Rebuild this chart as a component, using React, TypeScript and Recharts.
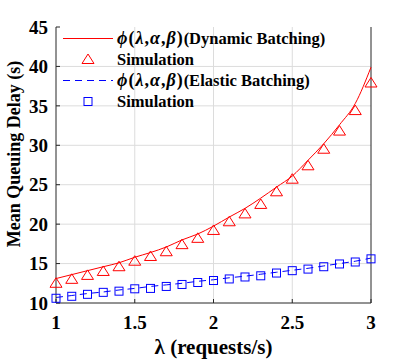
import { LineChart, Line, XAxis, YAxis, ReferenceLine, Legend } from 'recharts';

const lambdas = [1.0, 1.1, 1.2, 1.3, 1.4, 1.5, 1.6, 1.7, 1.8, 1.9, 2.0, 2.1, 2.2, 2.3, 2.4, 2.5, 2.6, 2.7, 2.8, 2.9, 3.0];
const dynamicModel = [13.1, 13.6, 14.1, 14.6, 15.1, 15.8, 16.4, 17.1, 18.0, 18.75, 19.75, 20.9, 22.0, 23.3, 24.7, 26.1, 28.1, 30.2, 32.6, 35.3, 39.9];
const dynamicSim = [12.5, 13.0, 13.5, 14.0, 14.6, 15.3, 15.9, 16.5, 17.4, 18.2, 19.2, 20.3, 21.3, 22.5, 24.1, 25.7, 27.4, 29.5, 31.8, 34.4, 37.9];
const elasticModel = [10.7, 10.95, 11.2, 11.4, 11.65, 11.85, 12.1, 12.3, 12.5, 12.75, 12.95, 13.2, 13.4, 13.65, 13.9, 14.15, 14.4, 14.7, 15.0, 15.3, 15.7];
const elasticSim = [10.6, 10.85, 11.1, 11.35, 11.5, 11.8, 11.85, 12.1, 12.35, 12.6, 12.85, 13.05, 13.3, 13.45, 13.8, 14.1, 14.3, 14.6, 14.95, 15.2, 15.6];

const xTicks = [1, 1.5, 2, 2.5, 3];
const yTicks = [10, 15, 20, 25, 30, 35, 40, 45];
const legendNames = ['(Dynamic Batching)', 'Simulation', '(Elastic Batching)', 'Simulation'];

const data = lambdas.map((x, i) => ({
  x,
  dynModel: dynamicModel[i],
  dynSim: dynamicSim[i],
  elaModel: elasticModel[i],
  elaSim: elasticSim[i],
}));

const FONT = "Liberation Serif, Times New Roman, DejaVu Serif, serif";
const GRID = '#dcdcdc';
const AXIS = '#262626';

const triangle = (p: any) => (
  <path key={'t' + p.index} d={`M${p.cx},${p.cy - 5.5}L${p.cx + 6},${p.cy + 4}L${p.cx - 6},${p.cy + 4}Z`}
    fill="none" stroke="#ff0000" strokeWidth={1} />
);

const square = (p: any) => (
  <rect key={'s' + p.index} x={p.cx - 4} y={p.cy - 4} width={8} height={8} fill="none" stroke="#0000ff" strokeWidth={1} />
);

const Phi = () => (
  <span style={{ fontSize: 18, letterSpacing: 1 }}><i>ϕ</i>(<i>λ</i>,<i>α</i>,<i>β</i>)</span>
);

function LegendBox() {
  const samples = [
    <line x1={7} x2={57} y1={10.5} y2={10.5} stroke="#ff0000" strokeWidth={1} />,
    <path d="M32,5L38,14.5L26,14.5Z" fill="none" stroke="#ff0000" />,
    <line x1={7} x2={57} y1={10.5} y2={10.5} stroke="#0000ff" strokeWidth={1} strokeDasharray="7 5" />,
    <rect x={28} y={6.5} width={8} height={8} fill="none" stroke="#0000ff" />,
  ];
  return (
    <div style={{ fontFamily: FONT, fontWeight: 'bold', fontSize: 16.5, color: '#000' }}>
      {legendNames.map((name, i) => (
        <div key={i} style={{ display: 'flex', alignItems: 'center', height: 21 }}>
          <svg width={61} height={21}>{samples[i]}</svg>
          <span style={{ whiteSpace: 'nowrap' }}>{i % 2 === 0 ? <Phi /> : null}{name}</span>
        </div>
      ))}
    </div>
  );
}

const YLabel = (props: any) => {
  const vb = props.viewBox;
  const cx = 14;
  const cy = vb.y + vb.height / 2 - 11;
  return (
    <text x={cx} y={cy} transform={`rotate(-90, ${cx}, ${cy})`} textAnchor="middle" dominantBaseline="central"
      fontFamily={FONT} fontWeight="bold" fontSize={18} fill="#000">
      Mean Queuing Delay (s)
    </text>
  );
};

const tickStyle = { fontFamily: FONT, fontWeight: 'bold', fontSize: 19, fill: '#000' };

export default function App() {
  return (
    <div style={{ position: 'absolute', left: 0, top: 0, background: '#fff' }}>
      <LineChart width={410} height={359} data={data} margin={{ top: 27, right: 39, bottom: 0, left: 0 }}>
        <XAxis dataKey="x" type="number" domain={[1, 3]} ticks={xTicks} height={56}
          tick={tickStyle} tickSize={-4} tickMargin={17} axisLine={{ stroke: AXIS }} tickLine={{ stroke: AXIS }}
          label={{ value: 'λ (requests/s)', position: 'insideBottom', offset: 5, style: { fontFamily: FONT, fontWeight: 'bold', fontSize: 21, fill: '#000' } }} />
        <XAxis xAxisId="t" dataKey="x" type="number" domain={[1, 3]} ticks={xTicks} orientation="top" height={0}
          tickFormatter={() => ''} tickSize={-4} axisLine={{ stroke: AXIS }} tickLine={{ stroke: AXIS }} />
        <YAxis type="number" domain={[10, 45]} ticks={yTicks} width={56}
          tick={tickStyle} tickSize={-4} tickMargin={12} axisLine={{ stroke: AXIS }} tickLine={{ stroke: AXIS }}
          label={<YLabel />} />
        {xTicks.slice(1, -1).map((t) => (
          <ReferenceLine key={'gx' + t} x={t} stroke={GRID} strokeWidth={1} />
        ))}
        {yTicks.slice(1, -1).map((t) => (
          <ReferenceLine key={'gy' + t} segment={[{ x: xTicks[0], y: t }, { x: xTicks[xTicks.length - 1], y: t }]}
            stroke={GRID} strokeWidth={1} ifOverflow="visible" />
        ))}
        <ReferenceLine x={3} stroke={AXIS} strokeWidth={1} />
        <Line dataKey="dynModel" type="monotone" stroke="#ff0000" strokeWidth={1} dot={false} isAnimationActive={false} />
        <Line dataKey="dynSim" stroke="none" dot={triangle} isAnimationActive={false} />
        <Line dataKey="elaModel" type="monotone" stroke="#0000ff" strokeWidth={1} strokeDasharray="7 5" dot={false} isAnimationActive={false} />
        <Line dataKey="elaSim" stroke="none" dot={square} isAnimationActive={false} />
        <Legend layout="vertical" align="center" verticalAlign="middle" content={<LegendBox />}
          wrapperStyle={{ left: 56, top: 28, width: 300, height: 84 }} />
      </LineChart>
    </div>
  );
}
